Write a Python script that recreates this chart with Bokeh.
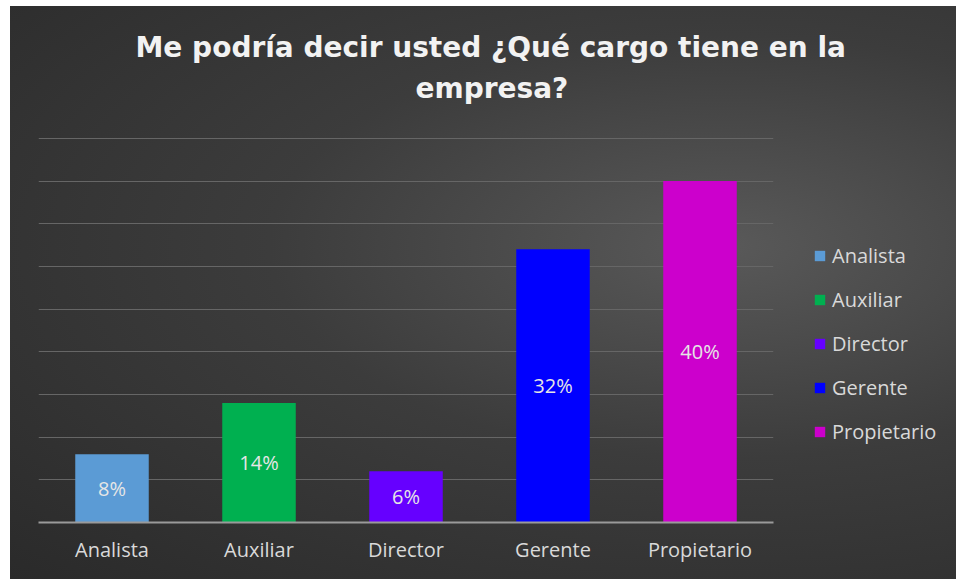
from bokeh.plotting import figure
from bokeh.models import (ColumnDataSource, LabelSet, Legend, LegendItem, FactorRange,
                          Range1d, FixedTicker, Title)
from bokeh.core.properties import value
from bokeh.embed import file_html
from bokeh.resources import INLINE

categories = ["Analista", "Auxiliar", "Director", "Gerente", "Propietario"]
values = [8, 14, 6, 32, 40]
labels = ["8%", "14%", "6%", "32%", "40%"]
colors = ["#5b9bd5", "#00b050", "#6600ff", "#0000ff", "#cc00cc"]
title_lines = ["Me podría decir usted ¿Qué cargo tiene en la", "empresa?"]

src = ColumnDataSource(dict(cat=categories, val=values, half=[v / 2 for v in values],
                            lab=labels, col=colors))

p = figure(frame_width=735, frame_height=385, output_backend="svg", toolbar_location=None,
           x_range=FactorRange(*categories, range_padding=0), y_range=Range1d(0, 45.1),
           y_axis_location=None, min_border_left=28, min_border_right=183,
           min_border_bottom=57, min_border_top=131, title=None)
p.styles = {"margin-left": "10px", "margin-top": "6px",
            "background-image": "radial-gradient(ellipse farthest-corner at 52% 42%, #595959 0%, #3c3c3c 45%, #2a2a2a 100%)"}
p.border_fill_color = None
p.background_fill_color = None
p.outline_line_color = None

# spacer between the frame and the title block
p.add_layout(Title(text=" ", text_font_size="1px", standoff=24), "above")
# title: two lines, line 2 nearest the frame
for txt, off, so in [(title_lines[1], 377, 12), (title_lines[0], 97, 0)]:
    p.add_layout(Title(text=txt, align="left", offset=off, standoff=so,
                       text_color="#f2f2f2", text_font="DejaVu Sans",
                       text_font_style="bold", text_font_size="28px"), "above")

r = p.vbar(x="cat", top="val", width=0.5, source=src, fill_color="col", line_color=None)

p.add_layout(LabelSet(x="cat", y="half", text="lab", source=src, text_align="center",
                      text_baseline="middle", text_color="#e6e6e6",
                      text_font=value("Open Sans"), text_font_size="20px"))

p.xgrid.grid_line_color = None
p.ygrid.grid_line_color = "#666666"
p.ygrid.grid_line_width = 1
p.yaxis.ticker = FixedTicker(ticks=[0, 5, 10, 15, 20, 25, 30, 35, 40, 45])
p.ygrid.ticker = FixedTicker(ticks=[5, 10, 15, 20, 25, 30, 35, 40, 45])

p.xaxis.axis_line_color = "#9a9a9a"
p.xaxis.axis_line_width = 2
p.xaxis.major_tick_line_color = None
p.xaxis.minor_tick_line_color = None
p.xaxis.major_label_text_color = "#d9d9d9"
p.xaxis.major_label_text_font = "Open Sans"
p.xaxis.major_label_text_font_size = "20px"
p.xaxis.major_label_standoff = 7

items = [LegendItem(label=c, renderers=[r], index=i) for i, c in enumerate(categories)]
legend = Legend(items=items, location=(40, 77), orientation="vertical",
                background_fill_color=None, border_line_color=None,
                label_text_color="#d9d9d9", label_text_font="Open Sans",
                label_text_font_size="20px", glyph_width=13, glyph_height=13,
                label_standoff=6, spacing=17, padding=0, margin=0)
p.add_layout(legend, "right")

open("out.html", "w").write(file_html(p, INLINE))
